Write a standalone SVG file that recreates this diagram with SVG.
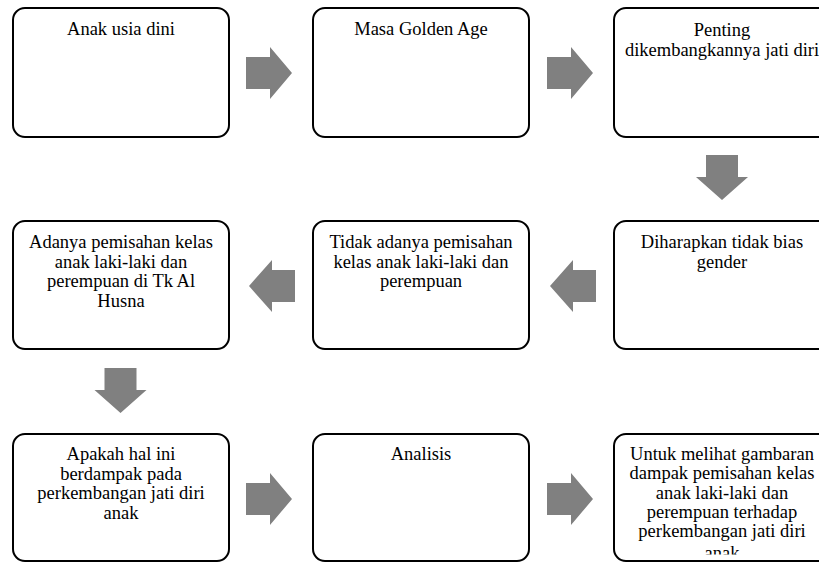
<svg xmlns="http://www.w3.org/2000/svg" width="819" height="562" viewBox="0 0 819 562">
<style>
.box{fill:#fff;stroke:#000;stroke-width:2}
.t{font-family:"Liberation Serif","Times New Roman",serif;font-size:18.5px;fill:#000;text-anchor:middle}
.arr{fill:#808080}
</style>
<defs>
<clipPath id="clip9"><rect x="614" y="434" width="220" height="120.5"/></clipPath>
</defs>
<rect width="819" height="562" fill="#fff"/>
<g id="connectors">
<polygon class="arr" points="246,57 270,57 270,47 292,73 270,99 270,89 246,89"/>
<polygon class="arr" points="547,57 571,57 571,47 593,73 571,99 571,89 547,89"/>
<polygon class="arr" points="706,155 738,155 738,177 748,177 722,200 696,177 706,177"/>
<polygon class="arr" points="596,270 573,270 573,260 550,286 573,312 573,302 596,302"/>
<polygon class="arr" points="295,270 272,270 272,260 249,286 272,312 272,302 295,302"/>
<polygon class="arr" points="104.5,368 136.5,368 136.5,390 146.5,390 120.5,413 94.5,390 104.5,390"/>
<polygon class="arr" points="246,483 270,483 270,473 292,499 270,525 270,515 246,515"/>
<polygon class="arr" points="547,483 571,483 571,473 593,499 571,525 571,515 547,515"/>
</g>
<g id="n1"><rect class="box" x="13" y="8" width="216" height="129" rx="12"/><text class="t" x="121" y="35">Anak usia dini</text></g>
<g id="n2"><rect class="box" x="313" y="8" width="216" height="129" rx="12"/><text class="t" x="421" y="35">Masa Golden Age</text></g>
<g id="n3"><rect class="box" x="614" y="8" width="216" height="129" rx="12"/><text class="t" x="722" y="36">Penting</text><text class="t" x="722" y="55.5">dikembangkannya jati diri</text></g>
<g id="n4"><rect class="box" x="614" y="221" width="216" height="128" rx="12"/><text class="t" x="722" y="248">Diharapkan tidak bias</text><text class="t" x="722" y="267.5">gender</text></g>
<g id="n5"><rect class="box" x="313" y="221" width="216" height="128" rx="12"/><text class="t" x="421" y="248">Tidak adanya pemisahan</text><text class="t" x="421" y="267.5">kelas anak laki-laki dan</text><text class="t" x="421" y="287">perempuan</text></g>
<g id="n6"><rect class="box" x="13" y="221" width="216" height="128" rx="12"/><text class="t" x="121" y="248">Adanya pemisahan kelas</text><text class="t" x="121" y="267.5">anak laki-laki dan</text><text class="t" x="121" y="287">perempuan di Tk Al</text><text class="t" x="121" y="306.5">Husna</text></g>
<g id="n7"><rect class="box" x="13" y="434" width="216" height="127" rx="12"/><text class="t" x="121" y="460">Apakah hal ini</text><text class="t" x="121" y="479.5">berdampak pada</text><text class="t" x="121" y="499">perkembangan jati diri</text><text class="t" x="121" y="518.5">anak</text></g>
<g id="n8"><rect class="box" x="313" y="434" width="216" height="127" rx="12"/><text class="t" x="421" y="460">Analisis</text></g>
<g id="n9"><rect class="box" x="614" y="434" width="216" height="127" rx="12"/><g clip-path="url(#clip9)"><text class="t" x="722" y="459.5">Untuk melihat gambaran</text><text class="t" x="722" y="479">dampak pemisahan kelas</text><text class="t" x="722" y="498.5">anak laki-laki dan</text><text class="t" x="722" y="517.5">perempuan terhadap</text><text class="t" x="722" y="537">perkembangan jati diri</text><text class="t" x="722" y="559">anak</text></g></g>
</svg>
